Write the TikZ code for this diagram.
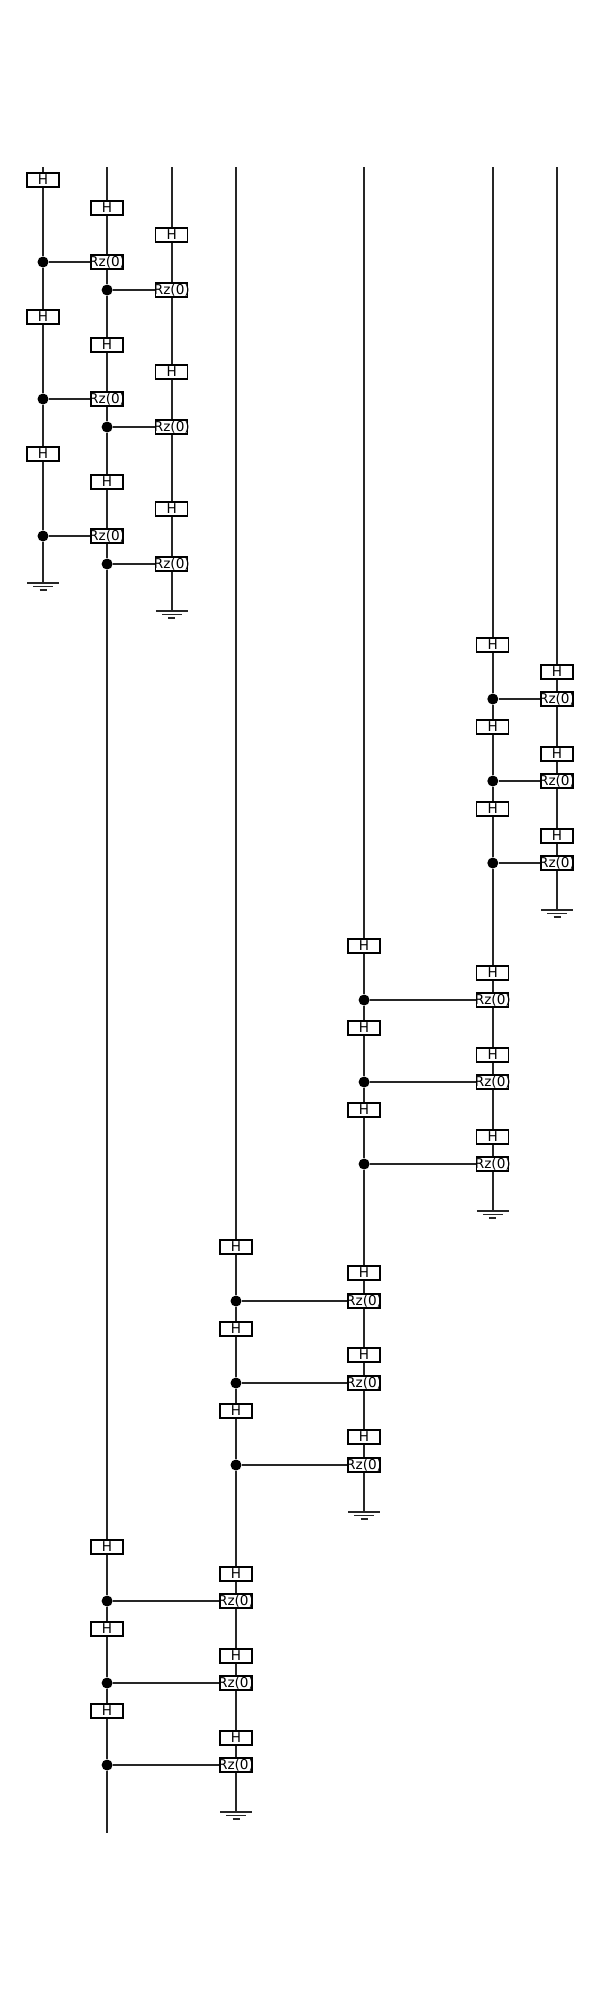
\documentclass[tikz,border=0pt]{standalone}
\usepackage{fontspec}
\setsansfont{DejaVu Sans}
\tikzset{
  wire/.style={line width=1.4pt,black!85},
  hgate/.style={draw,line width=1.3pt,fill=white,minimum width=32pt,minimum height=14pt,inner sep=0pt,font=\sffamily\fontsize{13.6}{16}\selectfont},
  dotnode/.style={circle,fill=black,minimum size=11pt,inner sep=0pt},
  groundsym/.pic={
    \draw[wire] (-16,0) -- (16,0);
    \draw[wire] (-10,3.5) -- (10,3.5);
    \draw[wire] (-3.5,7) -- (3.5,7);
  }
}
\newcommand\gatetext[1]{\makebox[0pt]{#1}}
\begin{document}
\begin{tikzpicture}[x=1pt,y=-1pt]
\useasboundingbox (0,0) rectangle (600,2000);
% wire ends
\foreach \nm/\x/\y in {ta/43/167,tb/107.1/167,tc/171.8/167,td/236/167,te/364.1/167,tf/492.8/167,tg/557/167,
  ga/43/583,gc/171.8/611,gd/236/1812,ge/364.1/1512,gf/492.8/1211,gg/557/910,bb/107.1/1833}
  \coordinate (\nm) at (\x,\y);
% H gates
\foreach \nm/\x/\y in {ha1/43/180,ha2/43/317,ha3/43/454,
  hb1/107.1/208,hb2/107.1/345,hb3/107.1/482,hb4/107.1/1547,hb5/107.1/1629,hb6/107.1/1711,
  hc1/171.8/235,hc2/171.8/372,hc3/171.8/509,
  hd1/236/1247,hd2/236/1329,hd3/236/1411,hd4/236/1574,hd5/236/1656,hd6/236/1738,
  he1/364.1/946,he2/364.1/1028,he3/364.1/1110,he4/364.1/1273,he5/364.1/1355,he6/364.1/1437,
  hf1/492.8/645,hf2/492.8/727,hf3/492.8/809,hf4/492.8/973,hf5/492.8/1055,hf6/492.8/1137,
  hg1/557/672,hg2/557/754,hg3/557/836}
  \node[hgate] (\nm) at (\x,\y) {H};
% Rz gates
\foreach \nm/\x/\y in {rb1/107.1/262,rb2/107.1/399,rb3/107.1/536,
  rc1/171.8/290,rc2/171.8/427,rc3/171.8/564,
  rd4/236/1601,rd5/236/1683,rd6/236/1765,
  re4/364.1/1301,re5/364.1/1383,re6/364.1/1465,
  rf4/492.8/1000,rf5/492.8/1082,rf6/492.8/1164,
  rg1/557/699,rg2/557/781,rg3/557/863}
  \node[hgate] (\nm) at (\x,\y) {\gatetext{Rz(0)}};
% controls
\foreach \nm/\x/\y in {da1/43/262,da2/43/399,da3/43/536,
  db1/107.1/290,db2/107.1/427,db3/107.1/564,db4/107.1/1601,db5/107.1/1683,db6/107.1/1765,
  dd1/236/1301,dd2/236/1383,dd3/236/1465,
  de1/364.1/1000,de2/364.1/1082,de3/364.1/1164,
  df1/492.8/699,df2/492.8/781,df3/492.8/863}
  \node[dotnode] (\nm) at (\x,\y) {};
% vertical wires
\draw[wire] (ta) -- (ha1) -- (da1) -- (ha2) -- (da2) -- (ha3) -- (da3) -- (ga);
\draw[wire] (tb) -- (hb1) -- (rb1) -- (db1) -- (hb2) -- (rb2) -- (db2) -- (hb3) -- (rb3) -- (db3)
  -- (hb4) -- (db4) -- (hb5) -- (db5) -- (hb6) -- (db6) -- (bb);
\draw[wire] (tc) -- (hc1) -- (rc1) -- (hc2) -- (rc2) -- (hc3) -- (rc3) -- (gc);
\draw[wire] (td) -- (hd1) -- (dd1) -- (hd2) -- (dd2) -- (hd3) -- (dd3) -- (hd4) -- (rd4) -- (hd5)
  -- (rd5) -- (hd6) -- (rd6) -- (gd);
\draw[wire] (te) -- (he1) -- (de1) -- (he2) -- (de2) -- (he3) -- (de3) -- (he4) -- (re4) -- (he5)
  -- (re5) -- (he6) -- (re6) -- (ge);
\draw[wire] (tf) -- (hf1) -- (df1) -- (hf2) -- (df2) -- (hf3) -- (df3) -- (hf4) -- (rf4) -- (hf5)
  -- (rf5) -- (hf6) -- (rf6) -- (gf);
\draw[wire] (tg) -- (hg1) -- (rg1) -- (hg2) -- (rg2) -- (hg3) -- (rg3) -- (gg);
% horizontal wires
\foreach \c/\r in {da1/rb1,da2/rb2,da3/rb3,db1/rc1,db2/rc2,db3/rc3,
  db4/rd4,db5/rd5,db6/rd6,dd1/re4,dd2/re5,dd3/re6,
  de1/rf4,de2/rf5,de3/rf6,df1/rg1,df2/rg2,df3/rg3}
  \draw[wire] (\c) -- (\r);
% grounds
\foreach \g in {ga,gc,gd,ge,gf,gg}
  \pic at (\g) {groundsym};
\end{tikzpicture}
\end{document}
